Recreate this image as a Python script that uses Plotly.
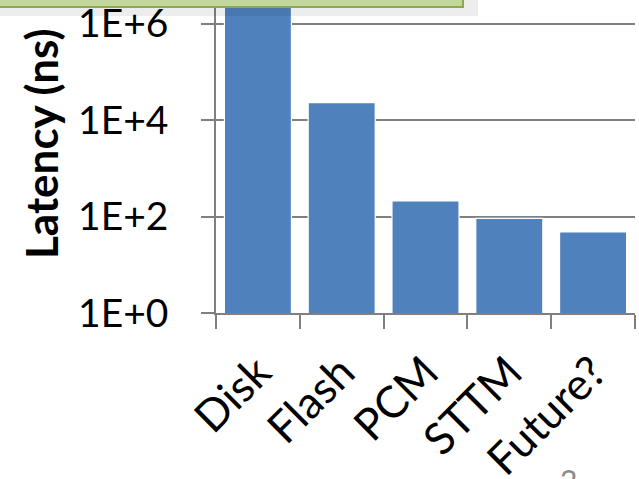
import plotly.graph_objects as go

devices = ['Disk', 'Flash', 'PCM', 'STTM', 'Future?']
latency_ns = [5000000, 23000, 210, 92, 48]

tick_vals = [1, 100, 10000, 1000000]
tick_text = ['1E+0', '1E+2', '1E+4', '1E+6']

W, H = 639, 479
L, R, T, B = 216, 4, 0, 166
pw, ph = W - L - R, H - T - B


def px_x(x):
    return (x - L) / pw


def px_y(y):
    return (H - B - y) / ph


fig = go.Figure(go.Bar(
    x=devices, y=latency_ns,
    marker=dict(color='#4f81bd', line=dict(color='white', width=1.2)),
    width=0.8,
))

fig.update_layout(
    width=W, height=H,
    margin=dict(l=L, r=R, t=T, b=B, autoexpand=False),
    paper_bgcolor='white', plot_bgcolor='white',
    font=dict(family='Lato', color='black'),
    showlegend=False,
    bargap=0.2,
)

fig.update_xaxes(
    type='category', automargin=False,
    tickangle=-45,
    tickfont=dict(size=44),
    ticklabelstandoff=14,
    showline=True, linecolor='#808080', linewidth=1.5,
    ticks='outside', ticklen=14, tickcolor='#808080', tickwidth=1.5,
    tickson='boundaries',
    showgrid=False,
)

fig.update_yaxes(
    type='log', range=[0, 6.49], automargin=False,
    tickvals=tick_vals, ticktext=tick_text,
    tickfont=dict(size=39),
    ticklabeloverflow='allow',
    ticks='outside', ticklen=13, tickcolor='#808080', tickwidth=1.5,
    ticklabelstandoff=25,
    showline=True, linecolor='#808080', linewidth=1.5,
    showgrid=True, gridcolor='#808080', gridwidth=1.5,
    zeroline=False,
)

# y axis title
fig.add_annotation(
    text='<b>Latency (ns)</b>', textangle=-90,
    xref='paper', yref='paper', x=px_x(41), y=px_y(144),
    xanchor='center', yanchor='middle',
    showarrow=False, font=dict(size=44, family='Lato'),
)

# green callout box cut off at the top, with a soft shadow
fig.add_shape(type='rect', xref='paper', yref='paper',
              x0=px_x(-10), x1=px_x(478), y0=px_y(16), y1=px_y(-20),
              fillcolor='rgba(0,0,0,0.07)', line=dict(width=0), layer='above')
fig.add_shape(type='rect', xref='paper', yref='paper',
              x0=px_x(-10), x1=px_x(463), y0=px_y(7), y1=px_y(-20),
              fillcolor='#c3d69b', line=dict(color='#8aab4d', width=2), layer='above')

# slide number
fig.add_annotation(
    text='2', xref='paper', yref='paper', x=px_x(568), y=px_y(460),
    xanchor='center', yanchor='top', showarrow=False,
    font=dict(size=30, color='#8c8c8c', family='Lato'),
)

# page has no body margin in the slide capture
fig.write_html('out.html', config={'displayModeBar': False},
               post_script="document.body.style.margin='0';")
